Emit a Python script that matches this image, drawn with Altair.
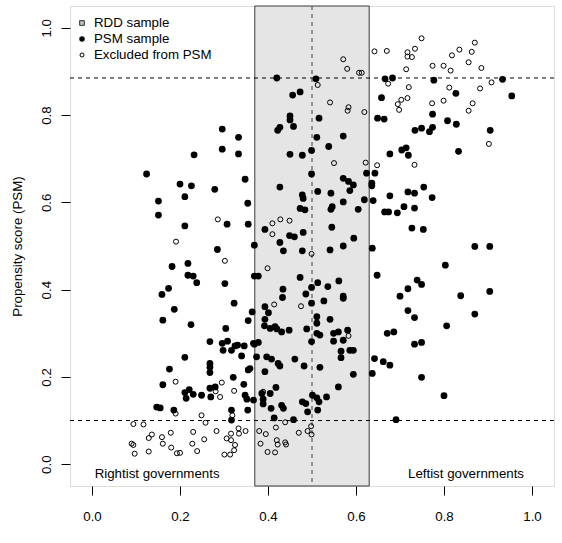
import altair as alt
import pandas as pd

# PSM sample (filled)
psm_x = [0.232,0.124,0.200,0.226,0.279,0.151,0.211,0.151,0.211,0.285,0.218,0.182,0.218,0.230,0.238,0.174,0.159,0.187,0.161,0.225,
         0.268,0.211,0.176,0.268,0.268,0.268,0.161,0.211,0.221,0.230,0.214,0.249,0.268,0.280,0.270,0.147,0.155,0.186,
         0.304,0.308,0.296,0.298,0.317,0.325,0.331,0.346,0.367,0.378,0.340,0.359,0.355,0.321,0.345,0.348,0.352,0.367,0.354,0.317,0.317,
         0.392,0.405,0.416,0.420,0.431,0.448,0.488,0.511,0.518,0.499,0.369,0.374,0.397,0.408,0.423,0.427,0.461,0.482,0.518,
         0.549,0.560,0.581,0.571,0.549,0.566,0.586,0.594,0.566,0.393,0.594,0.418,0.386,0.405,0.389,0.501,0.511,0.516,0.533,0.560,
         0.389,0.407,0.431,0.435,0.478,0.486,0.513,0.490,0.414,0.458,
         0.642,0.662,0.637,0.806,0.671,0.686,0.733,0.749,0.677,0.749,0.800,0.691,
         0.677,0.718,0.733,0.754,0.773,0.665,0.674,0.694,0.709,0.733,0.727,0.753,0.870,0.904,0.803,0.739,0.749,0.718,0.700,0.838,0.904,0.718,0.733,0.870,
         0.666,0.683,0.777,0.933,0.954,0.827,0.658,0.774,0.808,0.828,0.734,0.749,0.767,0.774,0.905,0.677,0.704,0.714,0.719,0.833,
         0.420,0.509,0.456,0.473,0.450,0.450,0.458,0.427,0.422,0.516,0.649,0.664,0.296,0.333,0.296,0.333,0.511,0.571,0.538,0.499,0.450,0.478,0.499,0.624,0.643,
         0.348,0.571,0.583,0.594,0.586,0.636,0.636,0.427,0.478,0.480,0.513,0.543,0.354,0.571,0.619,0.639,0.473,0.484,0.546,0.543,0.605,
         0.307,0.355,0.393,0.480,0.545,0.449,0.460,0.427,0.595,0.369,0.435,0.478,0.541,0.571,0.637,0.369,0.378,0.302,0.473,0.648,
         0.499,0.513,0.536,0.561,0.434,0.433,0.486,0.571,0.571,0.527,0.499,0.323,0.393,0.401,0.393,0.364,0.355,0.511,0.511,0.541]
psm_y = [0.709,0.665,0.642,0.638,0.630,0.603,0.613,0.571,0.546,0.492,0.460,0.453,0.433,0.431,0.416,0.403,0.389,0.355,0.330,0.320,
         0.281,0.245,0.218,0.231,0.222,0.210,0.182,0.164,0.171,0.160,0.151,0.158,0.174,0.177,0.154,0.131,0.129,0.124,
         0.311,0.282,0.277,0.261,0.261,0.271,0.273,0.271,0.277,0.279,0.248,0.219,0.216,0.199,0.183,0.158,0.149,0.147,0.124,0.124,0.101,
         0.317,0.311,0.315,0.310,0.303,0.307,0.310,0.300,0.296,0.281,0.275,0.246,0.246,0.241,0.231,0.225,0.241,0.225,0.222,
         0.300,0.303,0.307,0.284,0.282,0.259,0.261,0.261,0.244,0.212,0.206,0.176,0.162,0.162,0.149,0.158,0.152,0.143,0.154,0.177,
         0.138,0.128,0.135,0.128,0.143,0.139,0.124,0.120,0.106,0.102,
         0.242,0.235,0.208,0.317,0.300,0.303,0.275,0.279,0.227,0.199,0.157,0.102,
         0.615,0.624,0.621,0.635,0.611,0.578,0.578,0.576,0.590,0.587,0.541,0.538,0.499,0.499,0.456,0.422,0.412,0.402,0.385,0.386,0.396,0.352,0.336,0.344,
         0.883,0.885,0.880,0.882,0.844,0.850,0.840,0.802,0.787,0.779,0.765,0.770,0.762,0.772,0.765,0.711,0.720,0.725,0.708,0.717,
         0.885,0.883,0.846,0.853,0.798,0.789,0.774,0.772,0.765,0.793,0.793,0.791,0.768,0.749,0.722,0.711,0.749,0.752,0.728,0.719,0.710,0.708,0.665,0.667,0.667,
         0.653,0.655,0.648,0.640,0.627,0.644,0.638,0.635,0.617,0.609,0.625,0.621,0.598,0.601,0.606,0.604,0.586,0.583,0.590,0.584,0.584,
         0.550,0.550,0.538,0.531,0.543,0.524,0.521,0.508,0.518,0.502,0.489,0.489,0.491,0.500,0.495,0.431,0.431,0.414,0.428,0.433,
         0.405,0.416,0.407,0.420,0.401,0.382,0.390,0.385,0.380,0.374,0.369,0.369,0.361,0.347,0.332,0.349,0.329,0.338,0.323,0.332]

# Excluded from PSM (open)
excl_x = [0.286,0.191,
          0.190,0.281,0.190,0.249,0.258,0.094,0.117,0.136,0.129,0.159,0.161,0.179,0.230,0.255,0.228,0.090,0.094,0.180,0.097,0.129,0.193,0.200,0.239,0.283,
          0.295,0.291,0.323,0.319,0.316,0.333,0.334,0.349,0.306,0.316,0.325,0.323,0.314,0.301,0.389,0.439,0.418,0.380,0.395,0.383,0.399,0.416,0.420,0.422,0.439,0.441,0.470,0.490,0.498,0.499,0.583,
          0.410,0.428,0.449,0.410,0.499,0.302,0.399,0.475,0.414,
          0.749,0.670,0.717,0.734,0.717,0.727,0.714,0.774,0.799,0.815,0.818,0.835,0.870,0.863,0.856,0.885,0.673,0.720,0.812,0.882,0.908,0.703,0.717,0.695,0.698,0.773,0.799,0.865,0.856,0.902,0.733,
          0.513,0.571,0.580,0.607,0.613,0.642,0.541,0.583,0.581,0.619,0.550,0.622,0.648]
excl_y = [0.561,0.510,
          0.189,0.167,0.116,0.112,0.095,0.092,0.091,0.068,0.060,0.062,0.047,0.072,0.074,0.057,0.047,0.047,0.044,0.038,0.024,0.029,0.025,0.026,0.030,0.076,
          0.187,0.154,0.168,0.112,0.070,0.082,0.070,0.076,0.059,0.055,0.044,0.032,0.022,0.022,0.166,0.096,0.084,0.076,0.069,0.047,0.028,0.027,0.055,0.045,0.050,0.045,0.072,0.076,0.087,0.068,0.294,
          0.552,0.561,0.558,0.527,0.482,0.466,0.449,0.362,0.366,
          0.976,0.947,0.944,0.952,0.934,0.933,0.905,0.913,0.913,0.902,0.937,0.950,0.966,0.945,0.921,0.908,0.872,0.864,0.863,0.861,0.875,0.835,0.839,0.825,0.812,0.827,0.833,0.827,0.810,0.734,0.686,
          0.869,0.928,0.906,0.897,0.897,0.946,0.829,0.818,0.810,0.807,0.690,0.691,0.685]

band = [0.37, 0.63]
cutoff = [0.5]
hlines = [0.10, 0.885]
ann_labels = ["Rightist governments", "Leftist governments"]
ann_x = [0.148, 0.85]
ann_y = [-0.023, -0.023]
legend_labels = ["RDD sample", "PSM sample", "Excluded from PSM"]
ticks = [0.0, 0.2, 0.4, 0.6, 0.8, 1.0]

FONT = "Liberation Sans"
FS = 13.3
W, H = 484, 480

psm = pd.DataFrame({"x": psm_x, "y": psm_y})
excl = pd.DataFrame({"x": excl_x, "y": excl_y})

xs = alt.Scale(domain=[-0.05, 1.05], nice=False, zero=False)
ys = alt.Scale(domain=[-0.05, 1.05], nice=False, zero=False)

xaxis = alt.Axis(values=ticks, format=".1f", tickSize=9, tickColor="black", labelPadding=14,
                 labelFont=FONT, labelFontSize=FS, labelColor="black", domain=False, grid=False,
                 title=None, labelFlush=False)
yaxis = alt.Axis(values=ticks, format=".1f", tickSize=9, tickColor="black", labelPadding=15,
                 labelAngle=270, labelAlign="center", labelBaseline="middle",
                 labelFont=FONT, labelFontSize=FS, labelColor="black", domain=False, grid=False,
                 title="Propensity score (PSM)", titleFont=FONT, titleFontSize=FS, titleFontWeight="normal",
                 titleColor="black", titleAngle=270, titleX=-53, titleY=240, titleAlign="center",
                 titleBaseline="middle", labelFlush=False)

band_df = pd.DataFrame({"x": [band[0]], "x2": [band[1]]})
band_layer = alt.Chart(band_df).mark_rect(fill="#e5e5e5", stroke="#3a3a3a", strokeWidth=1).encode(
    x=alt.X("x:Q", scale=xs, axis=xaxis), x2="x2:Q",
    y=alt.value(0), y2=alt.value(H))

vline = alt.Chart(pd.DataFrame({"x": cutoff})).mark_rule(color="#3a3a3a", strokeDash=[4, 4], strokeWidth=1).encode(
    x=alt.X("x:Q", scale=xs))
hline = alt.Chart(pd.DataFrame({"y": hlines})).mark_rule(color="black", strokeDash=[4, 4], strokeWidth=1).encode(
    y=alt.Y("y:Q", scale=ys, axis=yaxis))

open_pts = alt.Chart(excl).mark_point(shape="circle", filled=False, stroke="black", fill="white",
                                      fillOpacity=0, strokeWidth=1, size=25, opacity=1).encode(
    x=alt.X("x:Q", scale=xs), y=alt.Y("y:Q", scale=ys))
fill_pts = alt.Chart(psm).mark_circle(color="black", size=46, opacity=1).encode(
    x=alt.X("x:Q", scale=xs), y=alt.Y("y:Q", scale=ys))

ann = alt.Chart(pd.DataFrame({"x": ann_x, "y": ann_y, "t": ann_labels})).mark_text(
    font=FONT, fontSize=FS, color="black", align="center", baseline="middle").encode(
    x=alt.X("x:Q", scale=xs), y=alt.Y("y:Q", scale=ys), text="t:N")

one = pd.DataFrame({"a": [0]})
lx, ltx = 12, 24
ly = [17, 33, 49]
leg = [
    alt.Chart(one).mark_point(shape="square", filled=True, fill="#bebebe", stroke="#333333", strokeWidth=1,
                              size=22, opacity=1).encode(x=alt.value(lx), y=alt.value(ly[0])),
    alt.Chart(one).mark_circle(color="black", size=30, opacity=1).encode(x=alt.value(lx), y=alt.value(ly[1])),
    alt.Chart(one).mark_point(shape="circle", filled=False, stroke="black", strokeWidth=1, size=16,
                              opacity=1).encode(x=alt.value(lx), y=alt.value(ly[2])),
]
for i, lab in enumerate(legend_labels):
    leg.append(alt.Chart(pd.DataFrame({"t": [lab]})).mark_text(
        font=FONT, fontSize=FS, color="black", align="left", baseline="middle").encode(
        x=alt.value(ltx), y=alt.value(ly[i]), text="t:N"))

chart = alt.layer(band_layer, hline, vline, open_pts, fill_pts, ann, *leg).properties(
    width=W, height=H,
    padding={"left": 70, "top": 6, "right": 8, "bottom": 57},
    autosize=alt.AutoSizeParams(type="none"),
).configure_view(stroke="black", strokeWidth=1).configure(background="white")

chart.save("out.html", embed_options={"renderer": "svg", "actions": False})
